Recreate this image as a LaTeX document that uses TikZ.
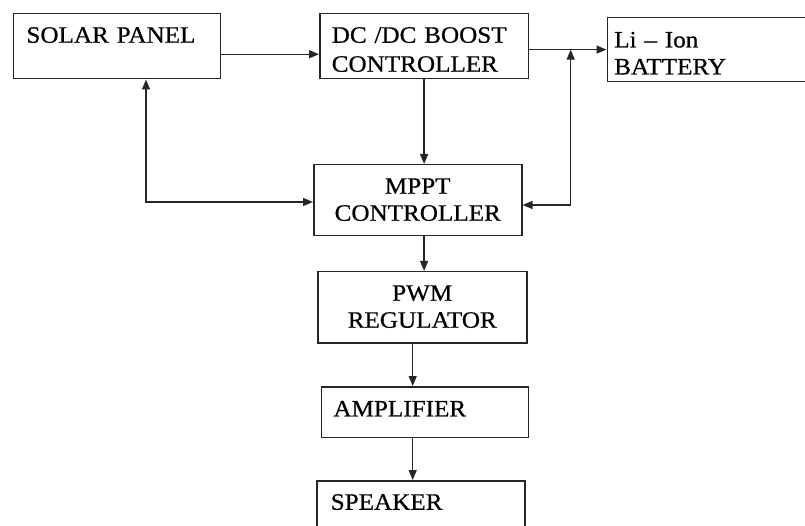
\documentclass[tikz,border=0pt]{standalone}
\usepackage{fontspec}
\newfontfamily\blockfont[FakeStretch=1.07,FakeBold=0.6]{Liberation Serif}
\usetikzlibrary{arrows.meta}

\begin{document}
\begin{tikzpicture}[x=1pt,y=-1pt,
    block/.style={draw=black!85,line width=1.5pt,anchor=north west,inner ysep=0pt,
      font=\blockfont\fontsize{23.5}{27}\selectfont,text=black},
    leftblock/.style={block,align=left},
    midblock/.style={block,align=center,inner xsep=0pt},
    wire/.style={draw=black!85,line width=1.4pt},
    >={Triangle[length=10pt,width=8pt]}]
  \useasboundingbox (0,0) rectangle (805,526); \clip (0,0) rectangle (805,526);
  % blocks
  \node[leftblock,inner xsep=13pt,text width=181pt,text height=29pt,text depth=36pt]
    (solar) at (12.7,13) {SOLAR PANEL};
  \node[leftblock,inner xsep=12pt,text width=184.7pt,text height=29pt,text depth=36pt]
    (dcdc) at (319,13) {DC /DC BOOST\\[2pt]CONTROLLER};
  \node[leftblock,inner xsep=7pt,text width=216pt,text height=30pt,text depth=34.3pt]
    (battery) at (606.5,16.7) {Li – Ion\\BATTERY};
  \node[midblock,text width=208pt,text height=29pt,text depth=42pt]
    (mppt) at (313,164) {MPPT\\CONTROLLER};
  \node[midblock,text width=209pt,text height=29pt,text depth=42pt]
    (pwm) at (317,271) {PWM\\REGULATOR};
  \node[leftblock,inner xsep=12pt,text width=183pt,text height=29.7pt,text depth=21pt]
    (amp) at (320.7,386) {AMPLIFIER};
  \node[leftblock,inner xsep=14pt,text width=180pt,text height=29pt,text depth=40pt]
    (speaker) at (316,480) {SPEAKER};
  % connectors
  \coordinate (jl) at (146,202); \coordinate (jr) at (570.7,205);
  \coordinate (jd) at (412.7,0);
  \draw[wire,->] ([yshift=-8pt]solar.east) -- ([yshift=-8pt]dcdc.west);
  \draw[wire,->] (battery.west -| dcdc.east) -- (battery.west);
  \draw[wire,->] (dcdc.south) -- (dcdc.south |- mppt.north);
  \draw[wire,<->] (jl |- solar.south) -- (jl) -- (jl -| mppt.west);
  \draw[wire,<->] (jr |- battery.west) -- (jr) -- (jr -| mppt.east);
  \draw[wire,->] (dcdc.south |- mppt.south) -- (dcdc.south |- pwm.north);
  \draw[wire,->] (jd |- pwm.south) -- (jd |- amp.north);
  \draw[wire,->] (jd |- amp.south) -- (jd |- speaker.north);
\end{tikzpicture}
\end{document}
